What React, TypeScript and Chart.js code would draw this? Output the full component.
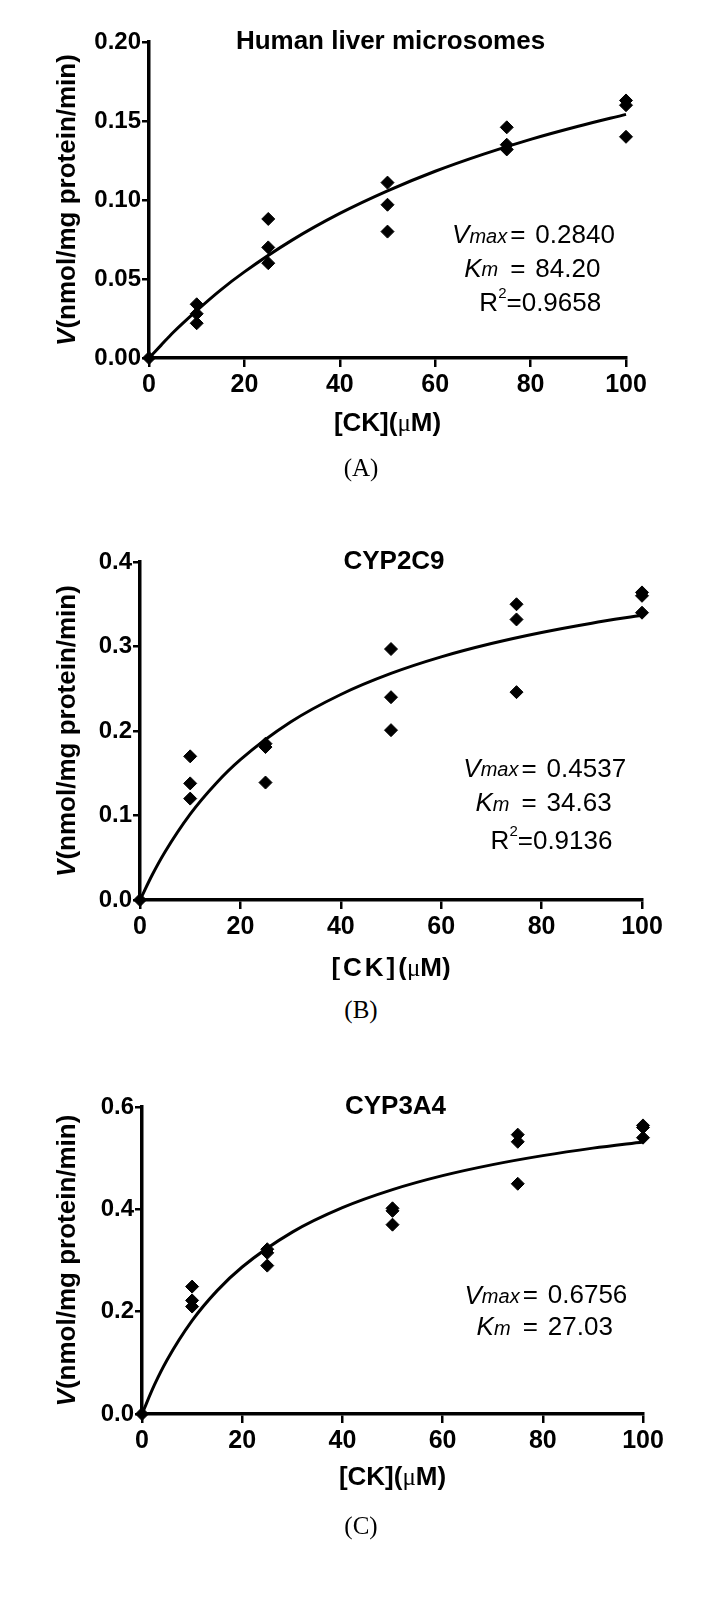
import React, { useEffect, useRef } from "react";
import { Chart, registerables } from "chart.js";

Chart.register(...registerables);

// ---------- data ----------
const xTicks = [0, 20, 40, 60, 80, 100];

// substrate concentrations [CK] (µM) for the replicate points
const concentrations = [0, 10, 10, 10, 25, 25, 25, 50, 50, 50, 75, 75, 75, 100, 100, 100];

// (A) Human liver microsomes
const hlmRates = [0, 0.034, 0.028, 0.022, 0.088, 0.07, 0.06, 0.111, 0.097, 0.08, 0.146, 0.135, 0.132, 0.163, 0.16, 0.14];
// (B) CYP2C9
const cyp2c9Rates = [0, 0.17, 0.138, 0.12, 0.185, 0.181, 0.139, 0.297, 0.24, 0.201, 0.35, 0.332, 0.246, 0.364, 0.36, 0.34];
// (C) CYP3A4
const cyp3a4Rates = [0, 0.249, 0.222, 0.21, 0.322, 0.315, 0.29, 0.402, 0.397, 0.37, 0.546, 0.532, 0.45, 0.564, 0.56, 0.54];

// fitted curves
const fitX = [0, 2.5, 5, 10, 15, 20, 30, 40, 50, 60, 70, 80, 90, 100];
const hlmFit = [0, 0.008, 0.016, 0.030, 0.043, 0.0545, 0.0746, 0.0915, 0.1058, 0.1182, 0.1289, 0.1384, 0.1467, 0.1542];
const cyp2c9Fit = [0, 0.0305, 0.0572, 0.1017, 0.1371, 0.1661, 0.2106, 0.2432, 0.2681, 0.2877, 0.3035, 0.3166, 0.3276, 0.337];
const cyp3a4Fit = [0, 0.0572, 0.1055, 0.1824, 0.2411, 0.2873, 0.3554, 0.4032, 0.4385, 0.4658, 0.4874, 0.505, 0.5196, 0.5318];

// axis ticks
const hlmYTicks = [0, 0.05, 0.1, 0.15, 0.2];
const cyp2c9YTicks = [0, 0.1, 0.2, 0.3, 0.4];
const cyp3a4YTicks = [0, 0.2, 0.4, 0.6];

// kinetic parameters printed on the chart
const hlmParams = { vmax: "0.2840", km: "84.20", r2: "0.9658" };
const cyp2c9Params = { vmax: "0.4537", km: "34.63", r2: "0.9136" };
const cyp3a4Params = { vmax: "0.6756", km: "27.03", r2: "" };

// ---------- layout ----------
const SANS = '"Liberation Sans", Arial, sans-serif';
const SERIF = '"Liberation Serif", "Times New Roman", serif';

type Panel = {
  title: string;
  label: string;
  rates: number[];
  fit: number[];
  yTicks: number[];
  decimals: number;
  params: { vmax: string; km: string; r2: string };
  noteY: number[]; // in data units
  top: number; // canvas top (px, absolute)
  plotLeft: number;
  plotRight: number;
  plotTop: number; // absolute
  plotBottom: number; // absolute
  xTitleGap: number;
  xTitleSpacing: number;
  labelY: number; // absolute
};

const CANVAS_W = 710;
const CANVAS_H = 470;

const panels: Panel[] = [
  {
    title: "Human liver microsomes",
    label: "(A)",
    rates: hlmRates,
    fit: hlmFit,
    yTicks: hlmYTicks,
    decimals: 2,
    params: hlmParams,
    noteY: [0.0772, 0.056, 0.0345],
    top: 0,
    plotLeft: 149,
    plotRight: 626,
    plotTop: 42,
    plotBottom: 358,
    xTitleGap: 66,
    xTitleSpacing: 0,
    labelY: 468,
  },
  {
    title: "CYP2C9",
    label: "(B)",
    rates: cyp2c9Rates,
    fit: cyp2c9Fit,
    yTicks: cyp2c9YTicks,
    decimals: 1,
    params: cyp2c9Params,
    noteY: [0.1543, 0.1134, 0.0684],
    top: 510,
    plotLeft: 140,
    plotRight: 642,
    plotTop: 562,
    plotBottom: 900,
    xTitleGap: 69,
    xTitleSpacing: 3,
    labelY: 1010,
  },
  {
    title: "CYP3A4",
    label: "(C)",
    rates: cyp3a4Rates,
    fit: cyp3a4Fit,
    yTicks: cyp3a4YTicks,
    decimals: 1,
    params: cyp3a4Params,
    noteY: [0.23, 0.168, 0],
    top: 1055,
    plotLeft: 142,
    plotRight: 643,
    plotTop: 1107,
    plotBottom: 1414,
    xTitleGap: 64,
    xTitleSpacing: 0,
    labelY: 1526,
  },
];

function makeDecor(p: Panel) {
  return {
    id: "decor",
    afterDraw(chart: any) {
      const ctx: any = chart.ctx;
      const a = chart.chartArea;
      const xs = chart.scales.x;
      const ys = chart.scales.y;
      ctx.save();
      ctx.fillStyle = "#000";
      // panel title
      ctx.font = `bold 26px ${SANS}`;
      ctx.textAlign = "center";
      ctx.textBaseline = "middle";
      ctx.fillText(p.title, (a.left + a.right) / 2 + 3, a.top);

      // x title: bold "[CK](" + serif µ + bold "M)"
      {
        const bd = `bold 26px ${SANS}`;
        const mu = `25px ${SERIF}`;
        const parts: [string, string, number][] = [
          ["[CK]", bd, p.xTitleSpacing],
          ["(", bd, 0],
          ["\u03bc", mu, 0],
          ["M)", bd, 0],
        ];
        let total = 0;
        for (const [t, f, sp] of parts) {
          ctx.font = f;
          ctx.letterSpacing = `${sp}px`;
          total += ctx.measureText(t).width;
        }
        let x = (a.left + a.right) / 2 - total / 2;
        const y = a.bottom + p.xTitleGap;
        ctx.textAlign = "left";
        for (const [t, f, sp] of parts) {
          ctx.font = f;
          ctx.letterSpacing = `${sp}px`;
          ctx.fillText(t, x, y);
          x += ctx.measureText(t).width;
        }
        ctx.letterSpacing = "0px";
      }

      // y title (italic V)
      ctx.save();
      ctx.translate(68, (a.top + a.bottom) / 2);
      ctx.rotate(-Math.PI / 2);
      const it = `italic bold 26px ${SANS}`;
      const bdy = `bold 26px ${SANS}`;
      ctx.font = it;
      const wV = ctx.measureText("V").width;
      ctx.font = bdy;
      const rest = "(nmol/mg protein/min)";
      const wR = ctx.measureText(rest).width;
      const x0 = -(wV + wR) / 2;
      ctx.textAlign = "left";
      ctx.font = it;
      ctx.fillText("V", x0, 0);
      ctx.font = bdy;
      ctx.fillText(rest, x0 + wV, 0);
      ctx.restore();

      // kinetic annotations
      const numX = xs.getPixelForValue(81);
      const reg = `26px ${SANS}`;
      const ital = `italic 26px ${SANS}`;
      const italSmall = `italic 20px ${SANS}`;
      ctx.textBaseline = "middle";
      // Vmax line
      let y = ys.getPixelForValue(p.noteY[0]);
      ctx.textAlign = "left";
      ctx.font = reg;
      ctx.fillText(p.params.vmax, numX, y);
      ctx.textAlign = "right";
      ctx.fillText("=", numX - 10, y);
      let xr = numX - 10 - ctx.measureText("=").width - 3;
      ctx.font = italSmall;
      ctx.fillText("max", xr, y + 1);
      xr -= ctx.measureText("max").width;
      ctx.font = ital;
      ctx.fillText("V", xr, y);
      // Km line
      y = ys.getPixelForValue(p.noteY[1]);
      ctx.textAlign = "left";
      ctx.font = reg;
      ctx.fillText(p.params.km, numX, y);
      ctx.textAlign = "right";
      ctx.fillText("=", numX - 10, y);
      xr = numX - 10 - ctx.measureText("=").width - 12;
      ctx.font = italSmall;
      ctx.fillText("m", xr, y + 1);
      xr -= ctx.measureText("m").width;
      ctx.font = ital;
      ctx.fillText("K", xr, y);
      // R2 line
      if (p.params.r2) {
        y = ys.getPixelForValue(p.noteY[2]);
        ctx.textAlign = "left";
        ctx.font = reg;
        let xl = numX - 56;
        ctx.fillText("R", xl, y);
        xl += ctx.measureText("R").width;
        ctx.font = `15px ${SANS}`;
        ctx.fillText("2", xl, y - 10);
        xl += ctx.measureText("2").width;
        ctx.font = reg;
        ctx.fillText("=" + p.params.r2, xl, y);
      }
      ctx.restore();
    },
  };
}

function PanelChart({ p }: { p: Panel }) {
  const ref = useRef<HTMLCanvasElement | null>(null);
  useEffect(() => {
    if (!ref.current) return;
    const scatter = concentrations.map((c, i) => ({ x: c, y: p.rates[i] }));
    const curve = fitX.map((c, i) => ({ x: c, y: p.fit[i] }));
    const yMax = p.yTicks[p.yTicks.length - 1];
    const chart = new Chart(ref.current, {
      type: "scatter",
      data: {
        datasets: [
          {
            type: "line",
            data: curve,
            borderColor: "#000",
            borderWidth: 3,
            pointRadius: 0,
            cubicInterpolationMode: "monotone",
            fill: false,
            clip: false,
          } as any,
          {
            data: scatter,
            pointStyle: "rectRot",
            pointRadius: 6.5,
            backgroundColor: "#000",
            borderColor: "#000",
            borderWidth: 1,
            clip: false,
          } as any,
        ],
      },
      options: {
        responsive: false,
        animation: false,
        devicePixelRatio: 1,
        events: [],
        layout: {
          padding: { top: p.plotTop - p.top, right: CANVAS_W - p.plotRight, left: 0, bottom: 0 },
        },
        plugins: { legend: { display: false }, tooltip: { enabled: false }, title: { display: false } },
        scales: {
          x: {
            type: "linear",
            min: 0,
            max: 100,
            afterBuildTicks: (s: any) => {
              s.ticks = xTicks.map((v) => ({ value: v }));
            },
            afterFit: (s: any) => {
              s.height = CANVAS_H - (p.plotBottom - p.top);
            },
            grid: { drawOnChartArea: false, drawTicks: true, tickLength: 9, color: "#000", lineWidth: 2.5 },
            border: { display: true, color: "#000", width: 3.5 },
            ticks: {
              color: "#000",
              font: { family: SANS, size: 25, weight: "bold" },
              padding: 3,
              maxRotation: 0,
              autoSkip: false,
            },
          },
          y: {
            type: "linear",
            min: 0,
            max: yMax,
            afterBuildTicks: (s: any) => {
              s.ticks = p.yTicks.map((v) => ({ value: v }));
            },
            afterFit: (s: any) => {
              s.width = p.plotLeft;
            },
            grid: { drawOnChartArea: false, drawTicks: true, tickLength: 7, color: "#000", lineWidth: 2.5 },
            border: { display: true, color: "#000", width: 3.5 },
            ticks: {
              color: "#000",
              font: { family: SANS, size: 24, weight: "bold" },
              padding: 1,
              callback: (v: any) => Number(v).toFixed(p.decimals),
            },
          },
        },
      },
      plugins: [makeDecor(p)],
    } as any);
    return () => chart.destroy();
  }, [p]);
  return (
    <>
      <canvas
        ref={ref}
        width={CANVAS_W}
        height={CANVAS_H}
        style={{ position: "absolute", left: 0, top: p.top, width: CANVAS_W, height: CANVAS_H }}
      />
      <div
        style={{
          position: "absolute",
          left: 0,
          width: 722,
          top: p.labelY - 15,
          height: 30,
          lineHeight: "30px",
          textAlign: "center",
          fontFamily: SERIF,
          fontSize: 25,
          color: "#000",
        }}
      >
        {p.label}
      </div>
    </>
  );
}

export default function App() {
  return (
    <div style={{ position: "absolute", left: 0, top: 0, width: 710, height: 1599, background: "#fff" }}>
      {panels.map((p) => (
        <PanelChart key={p.label} p={p} />
      ))}
    </div>
  );
}
